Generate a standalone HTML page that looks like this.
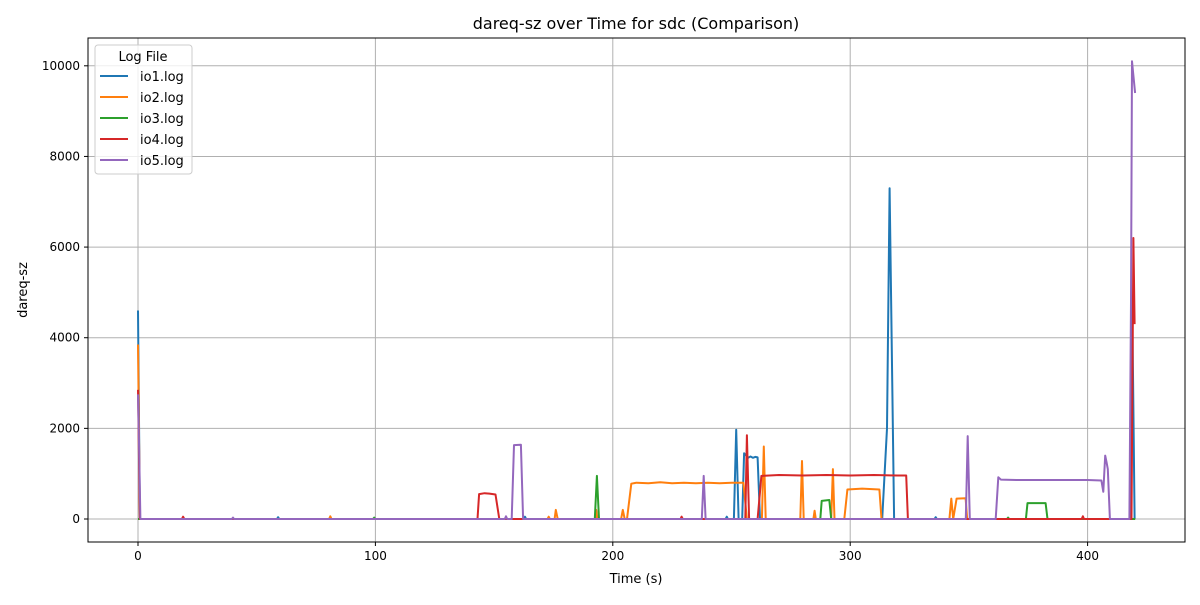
<!DOCTYPE html>
<html><head><meta charset="utf-8"><style>
body{margin:0;background:#fff;}
svg{font-family:"DejaVu Sans","Liberation Sans",sans-serif;}
</style></head><body>
<svg id="chart" width="1200" height="600" xmlns="http://www.w3.org/2000/svg">
<rect width="1200" height="600" fill="#fff"/>
<g id="grid"></g>
<g id="series"></g>
<rect x="88" y="38" width="1097" height="504" fill="none" stroke="#000" stroke-width="1"/>
<g id="axes"></g>
<text x="636" y="29" text-anchor="middle" font-size="16">dareq-sz over Time for sdc (Comparison)</text>
<text x="636" y="583" text-anchor="middle" font-size="13">Time (s)</text>
<text x="27" y="290" text-anchor="middle" font-size="13" transform="rotate(-90 27 290)">dareq-sz</text>
<g id="legend"></g>
</svg>
<script>
const xTicks=[0,100,200,300,400];
const yTicks=[0,2000,4000,6000,8000,10000];
const seriesNames=["io1.log","io2.log","io3.log","io4.log","io5.log"];
const seriesColors=["#1f77b4","#ff7f0e","#2ca02c","#d62728","#9467bd"];
const io1=[[0,4600],[0.8,0],[58.5,0],[59,40],[59.5,0],[162.5,0],[163,50],[163.5,0],[247.5,0],[248,50],[248.5,0],[251,0],[252,1970],[253,0],[254.5,0],[255.3,1450],[257,1350],[258,1380],[259,1350],[260,1370],[261,1360],[262,0],[313.5,0],[315.5,2000],[316.6,7300],[318.5,0],[335.5,0],[336,40],[336.5,0],[418.2,0],[418.8,4800],[419.8,0],[420,0]];
const io2=[[0,3850],[0.8,0],[80.5,0],[81,60],[81.5,0],[172.5,0],[173,50],[173.5,0],[175.5,0],[176,200],[176.8,0],[192.5,0],[193,200],[193.5,0],[203.5,0],[204.2,200],[205,0],[206,0],[207.8,780],[210,800],[215,790],[220,810],[225,790],[230,800],[235,790],[240,800],[245,790],[250,800],[255,800],[256.5,0],[262.8,0],[263.6,1600],[264.4,0],[279,0],[279.7,1280],[280.4,0],[284.5,0],[285,180],[285.5,0],[292,0],[292.7,1100],[293.4,0],[297.5,0],[298.8,650],[305,670],[312.3,650],[313.2,0],[341.8,0],[342.6,450],[343.4,0],[344.8,450],[348.6,460],[349.3,0],[420,0]];
const io3=[[0,0],[99,0],[99.5,30],[100,0],[192.4,0],[193.3,950],[194.2,0],[287.4,0],[288,400],[291.2,420],[292,0],[366,0],[366.5,30],[367,0],[374,0],[374.7,350],[382.3,350],[383.1,0],[420,0]];
const io4=[[0,2850],[0.8,0],[18.5,0],[19,50],[19.5,0],[143,0],[143.7,550],[146,570],[148,560],[150.6,540],[152.2,0],[228.5,0],[229,50],[229.5,0],[255.8,0],[256.5,1850],[257.4,0],[261,0],[262.6,950],[270,970],[280,960],[290,970],[300,960],[310,970],[320,960],[323.6,960],[324.3,0],[397.5,0],[398,60],[398.5,0],[418.5,0],[419.3,6200],[419.8,4300]];
const io5=[[0,2750],[0.4,1800],[1,0],[39.5,0],[40,30],[40.5,0],[154.5,0],[155,60],[155.5,0],[157.4,0],[158.4,1630],[161.3,1640],[162.2,0],[237.5,0],[238.3,950],[239.1,0],[348.7,0],[349.5,1830],[350.4,0],[361.3,0],[362.4,920],[363.5,870],[370,860],[380,860],[390,860],[400,860],[405.8,850],[406.6,600],[407.4,1400],[408,1250],[408.5,1100],[409.4,0],[417.6,0],[418.3,4800],[418.7,10100],[420,9400]];
const allSeries=[io1,io2,io3,io4,io5];
const X=t=>138+2.374*t;
const Y=v=>519-0.04532*v;
const NS="http://www.w3.org/2000/svg";
function mk(tag,attrs,parent){const e=document.createElementNS(NS,tag);for(const k in attrs)e.setAttribute(k,attrs[k]);parent.appendChild(e);return e;}
const grid=document.getElementById('grid'),axes=document.getElementById('axes');
xTicks.forEach(t=>{
 const l=mk('line',{x1:X(t),x2:X(t),y1:38,y2:542,stroke:'#b0b0b0','stroke-width':1},grid);
 
 
 const tk=mk('line',{x1:X(t),x2:X(t),y1:542,y2:546,stroke:'#000'},axes);
 
 
 const tx=mk('text',{x:X(t),y:560,'text-anchor':'middle','font-size':12},axes);
 tx.textContent=t;
 
 
});
yTicks.forEach(v=>{
 const l=mk('line',{x1:88,x2:1185,y1:Y(v),y2:Y(v),stroke:'#b0b0b0','stroke-width':1},grid);
 
 
 const tk=mk('line',{x1:84,x2:88,y1:Y(v),y2:Y(v),stroke:'#000'},axes);
 
 
 const tx=mk('text',{x:80,y:Y(v)+4,'text-anchor':'end','font-size':12},axes);
 tx.textContent=v;
 
 
});
const sg=document.getElementById('series');
allSeries.forEach((s,i)=>{
 const p=mk('polyline',{points:s.map(d=>X(d[0]).toFixed(1)+','+Y(d[1]).toFixed(1)).join(' '),fill:'none',stroke:seriesColors[i],'stroke-width':2,'stroke-linejoin':'round'},sg);
 
 
});
const lg=document.getElementById('legend');
const box=mk('rect',{x:95,y:45,width:97,height:129,rx:3,fill:'#fff','fill-opacity':0.8,stroke:'#ccc'},lg);


const lt=mk('text',{x:143,y:61,'text-anchor':'middle','font-size':13},lg);
lt.textContent='Log File';


seriesNames.forEach((n,i)=>{
 const yy=76+21*i;
 const ln=mk('line',{x1:100,x2:128,y1:yy,y2:yy,stroke:seriesColors[i],'stroke-width':2},lg);
 
 
 const t=mk('text',{x:140,y:yy+5,'font-size':13},lg);
 t.textContent=n;
 
 
});
</script>
</body></html>
